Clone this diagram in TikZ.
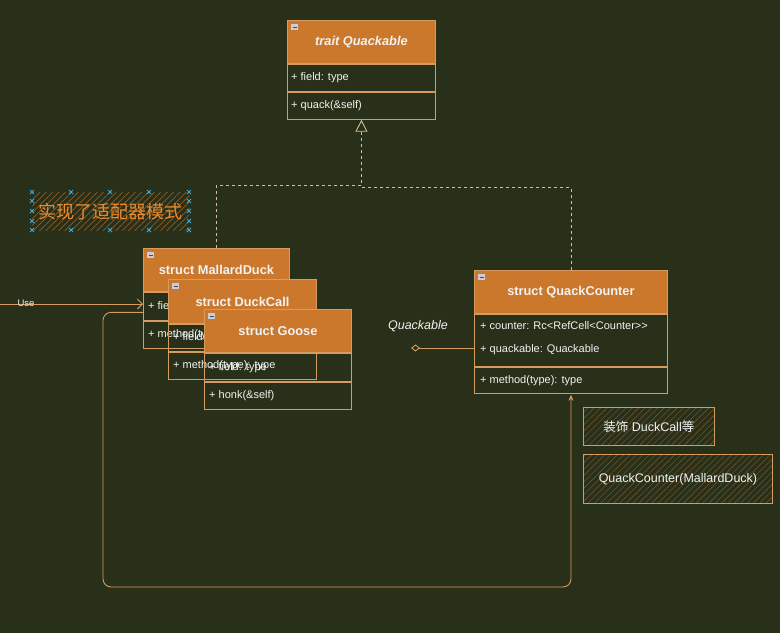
\documentclass[tikz,border=0pt]{standalone}
\usepackage{fontspec}
\setmainfont{Liberation Sans}
\newfontfamily\cjk{Noto Sans CJK SC}
\usetikzlibrary{arrows.meta,patterns.meta}
\definecolor{bg}{HTML}{283019}
\definecolor{hdrfill}{HTML}{CB772C}
\definecolor{edge}{HTML}{D69B5E}
\definecolor{dashc}{HTML}{D8BE94}
\definecolor{txt}{HTML}{F2F2F2}
\definecolor{hatchc}{HTML}{6E5230}
\definecolor{annothatch}{HTML}{8E5C28}
\definecolor{annot}{HTML}{EB8B2E}
\definecolor{handlec}{HTML}{3AA8DA}
\definecolor{iconc}{HTML}{C9CCDA}
\tikzset{
 hdr/.style={draw=edge, fill=hdrfill, line width=0.9pt, inner sep=0pt, text=txt,
   font=\fontsize{12.8}{15}\selectfont\bfseries, anchor=north west},
 rowbox/.style={draw=edge, line width=0.9pt, inner sep=0pt, anchor=north west},
 rowtxt/.style={anchor=west, inner sep=0pt, text=txt, font=\fontsize{11}{13}\selectfont},
 conn/.style={draw=edge, line width=0.9pt},
 impl/.style={draw=dashc, line width=0.9pt, dash pattern=on 3pt off 3pt},
 hatchbox/.style={draw=edge, line width=0.9pt, pattern={Lines[angle=45,distance=4.5pt,line width=0.6pt]},
   pattern color=hatchc, anchor=north west, inner sep=0pt, text=txt, font=\fontsize{12.5}{15}\selectfont},
 annotbox/.style={pattern={Lines[angle=45,distance=4.5pt,line width=0.7pt]}, pattern color=annothatch,
   anchor=north west, inner sep=0pt, text=annot, font=\fontsize{18}{20}\selectfont},
 lbl/.style={inner sep=0pt, text=txt, font=\fontsize{12.5}{15}\selectfont\itshape},
 handlemark/.style={draw=handlec, line width=0.8pt},
}
\newcommand\hicon[1]{%
  \fill[iconc] ([xshift=4pt,yshift=-4pt]#1.north west) rectangle ([xshift=11pt,yshift=-10pt]#1.north west);
  \draw[black!70, line width=0.8pt] ([xshift=5.5pt,yshift=-7pt]#1.north west) -- ([xshift=9.5pt,yshift=-7pt]#1.north west);}
\begin{document}
\begin{tikzpicture}[x=1pt,y=-1pt]
\fill[bg] (0,0) rectangle (780,633);
\useasboundingbox (0,0) rectangle (780,633);

% trait Quackable
\node[hdr, minimum width=148pt, minimum height=43pt] (qh) at (287,20) {\raisebox{-1.5pt}{\itshape trait Quackable}};
\hicon{qh}
\node[rowbox, minimum width=148pt, minimum height=27pt] (qf) at (qh.south west) {};
\node[rowtxt] (qft) at ([xshift=4pt]qf.west) {+ field: type};
\node[rowbox, minimum width=148pt, minimum height=27pt] (qm) at (qf.south west) {};
\node[rowtxt] (qmt) at ([xshift=4pt]qm.west) {+ quack(\&self)};

% struct MallardDuck
\node[hdr, minimum width=146pt, minimum height=43pt] (mdh) at (143,248) {\raisebox{-1pt}{struct MallardDuck}};
\hicon{mdh}
\node[rowbox, minimum width=146pt, minimum height=28pt] (mdf) at (mdh.south west) {};
\node[rowtxt] (mdft) at ([xshift=5pt]mdf.west) {+ field: type};
\node[rowbox, minimum width=146pt, minimum height=27pt] (mdm) at (mdf.south west) {};
\node[rowtxt] (mdmt) at ([xshift=5pt]mdm.west) {+ method(type): type};

% struct DuckCall
\node[hdr, minimum width=148pt, minimum height=44pt] (dch) at (168,279) {\raisebox{-1pt}{struct DuckCall}};
\hicon{dch}
\node[rowbox, minimum width=148pt, minimum height=27pt] (dcf) at (dch.south west) {};
\node[rowtxt] (dcft) at ([xshift=5pt]dcf.west) {+ field: type};
\node[rowbox, minimum width=148pt, minimum height=27pt] (dcm) at (dcf.south west) {};
\node[rowtxt] (dcmt) at ([xshift=5pt]dcm.west) {+ method(type): type};

% struct Goose
\node[hdr, minimum width=147pt, minimum height=43pt] (gh) at (204,309) {\raisebox{-1.5pt}{struct Goose}};
\hicon{gh}
\node[rowbox, minimum width=147pt, minimum height=28pt] (gf) at (gh.south west) {};
\node[rowtxt] (gft) at ([xshift=5pt]gf.west) {+ field: type};
\node[rowbox, minimum width=147pt, minimum height=27pt] (gm) at (gf.south west) {};
\node[rowtxt] (gmt) at ([xshift=5pt]gm.west) {+ honk(\&self)};

% struct QuackCounter
\node[hdr, minimum width=193pt, minimum height=43pt] (qch) at (474,270) {\raisebox{-0.5pt}{struct QuackCounter}};
\hicon{qch}
\node[rowbox, minimum width=193pt, minimum height=52pt] (qcf) at (qch.south west) {};
\node[rowtxt] (qcf1) at ([xshift=6pt,yshift=15pt]qcf.west) {+ counter: Rc<RefCell<Counter>{}>};
\node[rowtxt] (qcf2) at ([xshift=6pt,yshift=-9pt]qcf.west) {+ quackable: Quackable};
\node[rowbox, minimum width=193pt, minimum height=26pt] (qcm) at (qcf.south west) {};
\node[rowtxt] (qcmt) at ([xshift=6pt]qcm.west) {+ method(type): type};

% annotation
\node[annotbox, minimum width=157pt, minimum height=38pt] (note) at (32,192) {\cjk 实现了适配器模式};
\foreach \x in {32,71,110,149,189} {
  \foreach \y in {192,230} {
    \draw[handlemark] (\x-2,\y-2) -- (\x+2,\y+2) (\x-2,\y+2) -- (\x+2,\y-2);
  }
}
\foreach \y in {201,211,221} {
  \foreach \x in {32,189} {
    \draw[handlemark] (\x-2,\y-2) -- (\x+2,\y+2) (\x-2,\y+2) -- (\x+2,\y-2);
  }
}

% decoration notes
\node[hatchbox, minimum width=131pt, minimum height=38pt] (dec1) at (583,407) {{\cjk 装饰} DuckCall{\cjk 等}};
\node[hatchbox, minimum width=189pt, minimum height=49pt] (dec2) at (583,454) {QuackCounter(MallardDuck)};

% realization
\path (qm.south) ++(0,66) coordinate (j1);
\path (qm.south) ++(0,68) coordinate (j2);
\draw[impl, -{Triangle[open,length=12pt,width=12pt,fill=bg]}] (mdh.north) |- (j1) -- (qm.south);
\draw[impl] (qch.north) |- (j2);

% aggregation
\coordinate (aggend) at (411,348);
\draw[conn, {Diamond[open,length=9pt,width=7pt,fill=bg]}-] (aggend) -- (qcf.west |- aggend);
\node[lbl] (agglbl) at (418,326) {Quackable};

% use
\coordinate (usein) at (0,304);
\draw[conn, -{Straight Barb[length=5pt,width=10pt]}] (usein) -- (usein -| mdf.west);
\node[inner sep=0pt, text=txt, font=\fontsize{9.5}{11}\selectfont] (uselbl) at (26,303) {Use};

% loop
\coordinate (lb) at (103,587);
\draw[conn, rounded corners=8pt, -{Stealth[length=6pt,width=5pt]}, shorten >=1pt] ([yshift=-6pt]mdf.west) -| (lb) -| (qcm.south);
\end{tikzpicture}
\end{document}
